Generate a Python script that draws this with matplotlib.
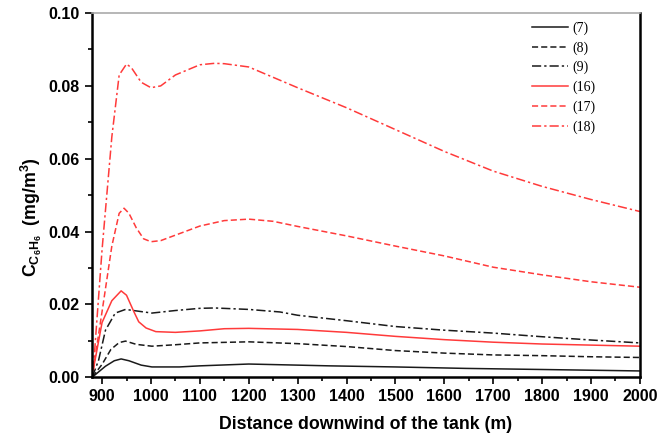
import matplotlib
matplotlib.use("Agg")
import matplotlib.pyplot as plt
from matplotlib.ticker import MultipleLocator, FormatStrFormatter

plt.rcParams['mathtext.fontset'] = 'custom'
plt.rcParams['mathtext.rm'] = 'Liberation Sans:bold'
plt.rcParams['mathtext.bf'] = 'Liberation Sans:bold'
plt.rcParams['mathtext.it'] = 'Liberation Sans:bold'

# Concentration profiles downwind of the tank (x in m, C in mg/m^3)
x7 = [880, 907, 925, 939, 955, 980, 1002, 1058, 1100, 1200, 1300, 1365, 1500, 1644, 1800, 2000]
c7 = [0.0, 0.0030, 0.0045, 0.0050, 0.0045, 0.0033, 0.0028, 0.0028, 0.0031, 0.0036, 0.0033, 0.0031, 0.0028, 0.0024, 0.0021, 0.0017]

x8 = [880, 900, 918, 935, 948, 970, 1002, 1050, 1100, 1200, 1300, 1400, 1500, 1600, 1700, 1800, 1900, 2000]
c8 = [0.0, 0.0035, 0.0076, 0.0095, 0.0099, 0.0090, 0.0085, 0.0089, 0.0094, 0.0097, 0.0092, 0.0084, 0.0073, 0.0066, 0.0061, 0.0059, 0.0056, 0.0054]

x9 = [880, 893, 907, 927, 948, 975, 1002, 1050, 1100, 1130, 1200, 1264, 1300, 1400, 1500, 1600, 1700, 1800, 1900, 2000]
c9 = [0.0, 0.0047, 0.0129, 0.0176, 0.0186, 0.0181, 0.0176, 0.0183, 0.0189, 0.0190, 0.0186, 0.0179, 0.0170, 0.0155, 0.0139, 0.0129, 0.0121, 0.0111, 0.0102, 0.0094]

x16 = [882, 900, 920, 939, 950, 965, 975, 990, 1010, 1050, 1100, 1150, 1200, 1300, 1400, 1500, 1600, 1700, 1800, 1900, 2000]
c16 = [0.002, 0.015, 0.021, 0.0237, 0.0225, 0.018, 0.0152, 0.0135, 0.0125, 0.0123, 0.0127, 0.0133, 0.0134, 0.0131, 0.0123, 0.0112, 0.0103, 0.0096, 0.0091, 0.0088, 0.0085]

x17 = [882, 900, 920, 935, 945, 955, 970, 985, 1000, 1020, 1050, 1100, 1150, 1200, 1250, 1300, 1400, 1500, 1600, 1700, 1800, 1900, 2000]
c17 = [0.002, 0.018, 0.036, 0.045, 0.0464, 0.045, 0.041, 0.038, 0.0372, 0.0375, 0.039, 0.0415, 0.0430, 0.0434, 0.0428, 0.0414, 0.0388, 0.0360, 0.0333, 0.0302, 0.0281, 0.0262, 0.0247]

x18 = [882, 900, 920, 935, 950, 960, 980, 1000, 1020, 1050, 1100, 1130, 1150, 1200, 1300, 1400, 1500, 1600, 1700, 1800, 1900, 2000]
c18 = [0.002, 0.035, 0.066, 0.083, 0.086, 0.085, 0.081, 0.0795, 0.080, 0.083, 0.0858, 0.0862, 0.0861, 0.0852, 0.0795, 0.0740, 0.0680, 0.0620, 0.0566, 0.0524, 0.0488, 0.0455]

labels = ['(7)', '(8)', '(9)', '(16)', '(17)', '(18)']

red = '#ff3a3a'
black = '#1a1a1a'
dashed = (0, (4, 2))
dashdot = (0, (6, 2, 1.5, 2))

fig = plt.figure(figsize=(6.70, 4.36), dpi=100)
ax = fig.add_axes([0.137, 0.135, 0.818, 0.835])

series = [
    (x7, c7, black, '-'),
    (x8, c8, black, dashed),
    (x9, c9, black, dashdot),
    (x16, c16, red, '-'),
    (x17, c17, red, dashed),
    (x18, c18, red, dashdot),
]
for (xs, cs, col, ls), lab in zip(series, labels):
    ax.plot(xs, cs, color=col, linestyle=ls, linewidth=1.1, label=lab)

ax.set_xlim(879, 2000)
ax.set_ylim(0, 0.10)
ax.xaxis.set_major_locator(MultipleLocator(100))
ax.xaxis.set_minor_locator(MultipleLocator(50))
ax.yaxis.set_major_locator(MultipleLocator(0.02))
ax.yaxis.set_minor_locator(MultipleLocator(0.01))
ax.yaxis.set_major_formatter(FormatStrFormatter('%.2f'))

ax.tick_params(which='both', direction='out', width=1.2)
ax.tick_params(which='major', length=5)
ax.tick_params(which='minor', length=3)
for lab in ax.get_xticklabels() + ax.get_yticklabels():
    lab.set_fontfamily('Liberation Sans')
    lab.set_fontweight('bold')
    lab.set_fontsize(11.5)

ax.spines['left'].set_linewidth(1.8)
ax.spines['bottom'].set_linewidth(1.8)
ax.spines['right'].set_linewidth(1.8)
ax.spines['top'].set_color('#aaaaaa')
ax.spines['top'].set_linewidth(1.2)

ax.set_xlabel('Distance downwind of the tank (m)', fontfamily='Liberation Sans',
              fontweight='bold', fontsize=12.8, labelpad=9)
ax.set_ylabel(r'$\mathrm{C_{C_6H_6}}$  (mg/m$^3$)', fontfamily='Liberation Sans',
              fontweight='bold', fontsize=12.8)
ax.yaxis.set_label_coords(-0.088, 0.44)

leg = ax.legend(loc='upper right', bbox_to_anchor=(0.935, 1.0), frameon=False,
                prop={'family': 'Liberation Serif', 'size': 10},
                handlelength=2.6, handletextpad=0.35, labelspacing=0.45,
                borderaxespad=0.2)

fig.savefig('out.png', dpi=100)
